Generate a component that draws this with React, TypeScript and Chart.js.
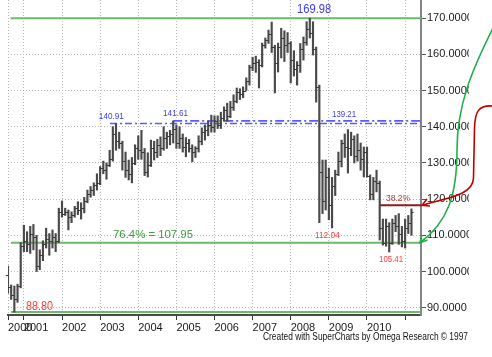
import React, { useEffect, useRef } from 'react';
import { Chart, registerables } from 'chart.js';

Chart.register(...registerables);

// Monthly bars, Aug 2000 .. Mar 2011 (index 0 = Aug 2000)
const opens = [
  99.0, 95.8, 93.5, 92.3, 96.0,
  107.0, 108.5, 107.5, 110.5, 109.5, 101.5, 104.5, 107.5, 109.0, 108.5, 109.5, 108.5,
  116.5, 116.0, 116.5, 115.0, 115.5, 117.5, 117.0, 117.5, 119.5, 121.5, 122.5, 124.0,
  124.5, 128.5, 128.0, 129.5, 131.0, 138.0, 136.0, 135.5, 130.5, 128.0, 127.0, 130.0,
  134.0, 133.5, 133.0, 127.5, 129.5, 134.0, 133.0, 135.0, 134.0, 137.0, 137.5, 138.0,
  139.5, 135.5, 137.0, 134.5, 135.5, 134.0, 133.0, 134.0, 136.0, 138.5, 139.0, 140.5,
  140.0, 141.5, 140.5, 142.5, 144.5, 143.0, 145.5, 147.0, 149.5, 149.0, 150.0, 152.5,
  156.5, 157.5, 158.0, 157.0, 162.5, 164.0, 165.5, 162.0, 157.5, 162.0, 164.5, 162.5,
  163.0, 158.5, 156.0, 157.0, 161.5, 163.5, 167.0, 166.0, 161.5, 151.0, 127.5, 119.5,
  126.0, 118.5, 123.5, 127.0, 130.5, 135.5, 134.5, 134.0, 136.5, 132.0, 133.5, 131.0,
  133.0, 126.5, 121.5, 125.0, 124.5, 112.0, 108.0, 112.5, 108.0, 113.5, 112.5, 110.5,
  108.5, 112.0, 113.5,
];
const highs = [
  101.5, 96.3, 96.0, 96.5, 108.0,
  112.8, 111.0, 112.5, 113.0, 110.0, 106.0, 108.5, 112.0, 110.5, 111.5, 110.5, 117.5,
  119.5, 117.5, 117.0, 116.5, 118.0, 119.3, 119.0, 120.5, 122.5, 123.5, 124.5, 127.0,
  129.0, 130.5, 130.0, 133.5, 140.0, 140.91, 138.5, 136.0, 133.0, 130.8, 131.5, 135.0,
  137.5, 139.0, 134.0, 132.8, 136.3, 136.0, 136.5, 137.2, 140.0, 138.5, 139.0, 141.61,
  140.5, 140.0, 138.0, 137.0, 136.5, 135.0, 134.5, 137.5, 139.7, 140.5, 141.5, 143.2,
  143.0, 143.0, 144.0, 145.5, 146.5, 147.0, 148.8, 150.7, 150.5, 151.0, 153.5, 157.0,
  159.2, 159.5, 158.5, 163.1, 164.5, 166.7, 168.9, 162.5, 163.1, 167.2, 166.5, 166.0,
  163.5, 161.0, 158.0, 163.0, 164.8, 169.0, 169.98, 169.0, 162.0, 151.5, 130.8, 130.8,
  128.6, 126.0, 128.0, 133.0, 136.3, 138.0, 139.21, 138.5, 137.5, 138.0, 135.5, 134.4,
  134.4, 126.7, 126.0, 128.0, 125.0, 114.5, 114.5, 113.5, 114.5, 115.5, 116.0, 112.5,
  114.5, 115.5, 117.3,
];
const lows = [
  94.0, 92.3, 88.8, 91.5, 95.5,
  105.5, 105.5, 105.0, 106.0, 100.0, 100.5, 103.0, 106.5, 104.5, 106.5, 105.5, 108.0,
  115.0, 115.5, 111.5, 113.5, 115.0, 115.7, 114.5, 116.2, 119.0, 120.5, 121.0, 122.5,
  124.0, 127.0, 125.5, 129.0, 130.5, 133.5, 134.0, 128.0, 126.0, 125.3, 124.5, 129.5,
  131.0, 131.0, 126.5, 126.1, 129.0, 130.8, 131.5, 132.0, 133.5, 134.0, 135.0, 135.5,
  134.0, 134.0, 133.0, 131.7, 133.0, 130.3, 131.5, 133.0, 135.0, 136.3, 137.5, 138.5,
  138.5, 139.5, 139.5, 141.5, 141.5, 142.5, 144.5, 146.6, 147.5, 148.0, 150.0, 151.5,
  155.5, 155.0, 150.7, 156.5, 161.7, 163.0, 160.5, 149.3, 155.1, 159.0, 158.0, 160.5,
  152.1, 154.0, 151.5, 155.0, 158.4, 162.5, 164.5, 159.8, 146.8, 113.5, 116.0, 117.0,
  114.3, 112.04, 121.0, 126.5, 128.9, 131.5, 127.2, 132.0, 130.0, 130.5, 128.0, 126.1,
  126.1, 119.8, 119.8, 122.0, 108.7, 107.3, 107.0, 105.41, 107.5, 111.0, 107.5, 106.8,
  106.5, 110.5, 110.0,
];
const closes = [
  95.8, 93.5, 92.3, 96.0, 107.0,
  108.5, 107.5, 110.5, 109.5, 101.5, 104.5, 107.5, 109.0, 108.5, 109.5, 108.5, 116.5,
  116.0, 116.5, 115.0, 115.5, 117.5, 117.0, 117.5, 119.5, 121.5, 122.5, 124.0, 124.5,
  128.5, 128.0, 129.5, 131.0, 138.0, 136.0, 135.5, 130.5, 128.0, 127.0, 130.0, 134.0,
  133.5, 133.0, 127.5, 129.5, 134.0, 133.0, 135.0, 134.0, 137.0, 137.5, 138.0, 139.5,
  135.5, 137.0, 134.5, 135.5, 134.0, 133.0, 134.0, 136.0, 138.5, 139.0, 140.5, 140.0,
  141.5, 140.5, 142.5, 144.5, 143.0, 145.5, 147.0, 149.5, 149.0, 150.0, 152.5, 156.5,
  157.5, 158.0, 157.0, 162.5, 164.0, 165.5, 162.0, 157.5, 162.0, 164.5, 162.5, 163.0,
  158.5, 156.0, 157.0, 161.5, 163.5, 167.0, 166.0, 161.5, 151.0, 127.5, 119.5, 126.0,
  118.5, 123.5, 127.0, 130.5, 135.5, 134.5, 134.0, 136.5, 132.0, 133.5, 131.0, 133.0,
  126.5, 121.5, 125.0, 124.5, 112.0, 108.0, 112.5, 108.0, 113.5, 112.5, 110.5, 108.5,
  112.0, 113.5, 116.5,
];

const yearTickIndex = [0, 5, 17, 29, 41, 53, 65, 77, 89, 101, 113, 125];
const yearTickLabels = ['2000', '2001', '2002', '2003', '2004', '2005', '2006', '2007', '2008', '2009', '2010', ''];
const priceTicks = [90, 100, 110, 120, 130, 140, 150, 160, 170];

const FONT = '"Liberation Sans", Arial, sans-serif';

type Level = { value: number; from: number; color: string; width: number; dash: number[] };
const levels: Level[] = [
  { value: 169.98, from: 0.8, color: '#6cb86c', width: 2, dash: [] },
  { value: 107.95, from: 0.9, color: '#6cb86c', width: 2, dash: [] },
  { value: 88.8, from: 0.9, color: '#6cb86c', width: 2, dash: [] },
  { value: 140.91, from: 32.1, color: '#5a5aff', width: 1.6, dash: [7, 3, 2, 3] },
  { value: 141.61, from: 52.0, color: '#5a5aff', width: 1.6, dash: [9, 3, 2, 3] },
  { value: 118.3, from: 117.1, color: '#8b1c1c', width: 2, dash: [] },
];

type Note = { text: string; x: number; y: number; color: string; font: string; maxW?: number };
const notes: Note[] = [
  { text: '169.98', x: 91.0, y: 172.2, color: '#3a3aff', font: '12px ' + FONT, maxW: 34 },
  { text: '140.91', x: 28.6, y: 142.96, color: '#3a3aff', font: '9.5px ' + FONT, maxW: 25 },
  { text: '141.61', x: 48.8, y: 143.79, color: '#3a3aff', font: '9.5px ' + FONT, maxW: 25 },
  { text: '139.21', x: 102.0, y: 143.38, color: '#3a3aff', font: '9.5px ' + FONT, maxW: 24 },
  { text: '76.4% = 107.95', x: 33.05, y: 110.1, color: '#3f9a3f', font: '11.5px ' + FONT, maxW: 80 },
  { text: '88.80', x: 5.67, y: 90.35, color: '#ff3a3a', font: '12px ' + FONT, maxW: 27 },
  { text: '112.04', x: 96.6, y: 110.1, color: '#ff3a3a', font: '9.5px ' + FONT, maxW: 25 },
  { text: '105.41', x: 116.8, y: 103.33, color: '#ff3a3a', font: '9.5px ' + FONT, maxW: 24 },
  { text: '38.2%', x: 119.0, y: 120.04, color: '#a83a3a', font: '9px ' + FONT, maxW: 24 },
];

const footer = 'Created with SuperCharts by Omega Research \u00a9 1997';

function arrowHead(ctx: CanvasRenderingContext2D, tx: number, ty: number, fx: number, fy: number, len: number) {
  const a = Math.atan2(ty - fy, tx - fx);
  ctx.beginPath();
  ctx.moveTo(tx - len * Math.cos(a - 0.5), ty - len * Math.sin(a - 0.5));
  ctx.lineTo(tx, ty);
  ctx.lineTo(tx - len * Math.cos(a + 0.5), ty - len * Math.sin(a + 0.5));
  ctx.stroke();
}

const overlayPlugin = {
  id: 'overlay',
  beforeDatasetsDraw(chart: any) {
    const { ctx, chartArea } = chart;
    const xs = chart.scales.x;
    const ys = chart.scales.y;
    ctx.save();
    for (const l of levels) {
      const y = ys.getPixelForValue(l.value);
      ctx.strokeStyle = l.color;
      ctx.lineWidth = l.width;
      ctx.setLineDash(l.dash);
      ctx.beginPath();
      ctx.moveTo(xs.getPixelForValue(l.from), y);
      ctx.lineTo(chartArea.right, y);
      ctx.stroke();
    }
    ctx.restore();
  },
  afterDatasetsDraw(chart: any) {
    const { ctx } = chart;
    const xs = chart.scales.x;
    const ys = chart.scales.y;
    ctx.save();
    ctx.strokeStyle = '#3a3a3a';
    ctx.lineWidth = 1;
    for (let i = 0; i < opens.length; i++) {
      const x = xs.getPixelForValue(i);
      const yo = Math.round(ys.getPixelForValue(opens[i])) + 0.5;
      const yc = Math.round(ys.getPixelForValue(closes[i])) + 0.5;
      ctx.beginPath();
      ctx.moveTo(x - 2.2, yo);
      ctx.lineTo(x, yo);
      ctx.moveTo(x, yc);
      ctx.lineTo(x + 2.2, yc);
      ctx.stroke();
    }
    ctx.textAlign = 'left';
    ctx.textBaseline = 'middle';
    for (const n of notes) {
      ctx.font = n.font;
      ctx.fillStyle = n.color;
      ctx.fillText(n.text, xs.getPixelForValue(n.x), ys.getPixelForValue(n.y), n.maxW);
    }
    ctx.restore();
  },
  afterDraw(chart: any) {
    const { ctx, chartArea, width } = chart;
    const ys = chart.scales.y;
    ctx.save();
    // clip of the price labels
    ctx.fillStyle = '#ffffff';
    ctx.fillRect(469, 0, width - 469, chartArea.bottom + 2);
    // footer
    ctx.font = '11px ' + FONT;
    ctx.fillStyle = '#111';
    ctx.textAlign = 'left';
    ctx.textBaseline = 'middle';
    ctx.fillText(footer, 263, chartArea.bottom + 22, 205);

    // green arrow
    const gTipX = chartArea.right - 1;
    const gTipY = ys.getPixelForValue(107.95);
    ctx.strokeStyle = '#1fb04a';
    ctx.lineWidth = 1.6;
    ctx.beginPath();
    ctx.moveTo(width + 1, 28);
    ctx.bezierCurveTo(472, 70, 457, 105, 457, 150);
    ctx.bezierCurveTo(457, 195, 448, 222, gTipX, gTipY);
    ctx.stroke();
    arrowHead(ctx, gTipX, gTipY, 433, 228, 8);

    // red arrow
    const rTipX = chartArea.right + 1;
    const rTipY = ys.getPixelForValue(118.3);
    ctx.strokeStyle = '#c00000';
    ctx.beginPath();
    ctx.moveTo(width + 1, 106);
    ctx.bezierCurveTo(478, 105, 475, 112, 474.5, 128);
    ctx.lineTo(473.5, 178);
    ctx.bezierCurveTo(473, 196, 445, 198, rTipX, rTipY);
    ctx.stroke();
    arrowHead(ctx, rTipX, rTipY, 432, 201, 8);
    ctx.restore();
  },
};

export default function App() {
  const ref = useRef<HTMLCanvasElement | null>(null);
  useEffect(() => {
    if (!ref.current) return;
    const chart = new Chart(ref.current, {
      type: 'bar',
      data: {
        datasets: [
          {
            data: highs.map((h, i) => ({ x: i, y: [lows[i], h] })) as any,
            backgroundColor: '#4a4a4a',
            borderWidth: 0,
            barThickness: 1.5,
          },
        ],
      },
      options: {
        animation: false,
        responsive: false,
        devicePixelRatio: 1,
        layout: { padding: { left: 8, top: 0, right: 0, bottom: 0 } },
        plugins: { legend: { display: false }, tooltip: { enabled: false } },
        scales: {
          x: {
            type: 'linear',
            min: 0,
            max: 130,
            offset: false,
            grid: {
              offset: false,
              color: '#b8b8b8',
              tickColor: '#333',
              tickLength: 5,
              lineWidth: 1,
            },
            border: { display: true, color: '#4a4a4a', width: 2, dash: [1, 2] },
            ticks: {
              autoSkip: false,
              maxRotation: 0,
              minRotation: 0,
              align: 'start',
              padding: 1,
              color: '#1a1a1a',
              font: { family: FONT, size: 11 },
              callback: (_v: any, i: number) => yearTickLabels[i],
            },
            afterBuildTicks: (s: any) => {
              s.ticks = yearTickIndex.map((v) => ({ value: v }));
            },
            afterFit: (s: any) => {
              s.height = 42;
              s.paddingLeft = 0;
              s.paddingRight = 0;
            },
          } as any,
          y: {
            type: 'linear',
            position: 'right',
            min: 88,
            max: 175,
            beginAtZero: false,
            grid: {
              color: '#b8b8b8',
              tickColor: '#555',
              tickLength: 5,
              lineWidth: 1,
            },
            border: { display: true, color: '#858585', width: 2, dash: [1, 2] },
            ticks: {
              padding: 1,
              color: '#1a1a1a',
              font: { family: FONT, size: 11 },
              callback: (v: any) => Number(v).toFixed(4),
            },
            afterBuildTicks: (s: any) => {
              s.ticks = priceTicks.map((v) => ({ value: v }));
            },
            afterFit: (s: any) => {
              s.width = 71;
              s.paddingTop = 0;
              s.paddingBottom = 0;
            },
          } as any,
        },
      },
      plugins: [overlayPlugin],
    });
    return () => chart.destroy();
  }, []);
  return (
    <div style={{ position: 'absolute', left: 0, top: 0, width: 492, height: 357, background: '#fff' }}>
      <canvas ref={ref} width={492} height={357} style={{ display: 'block' }} />
    </div>
  );
}
